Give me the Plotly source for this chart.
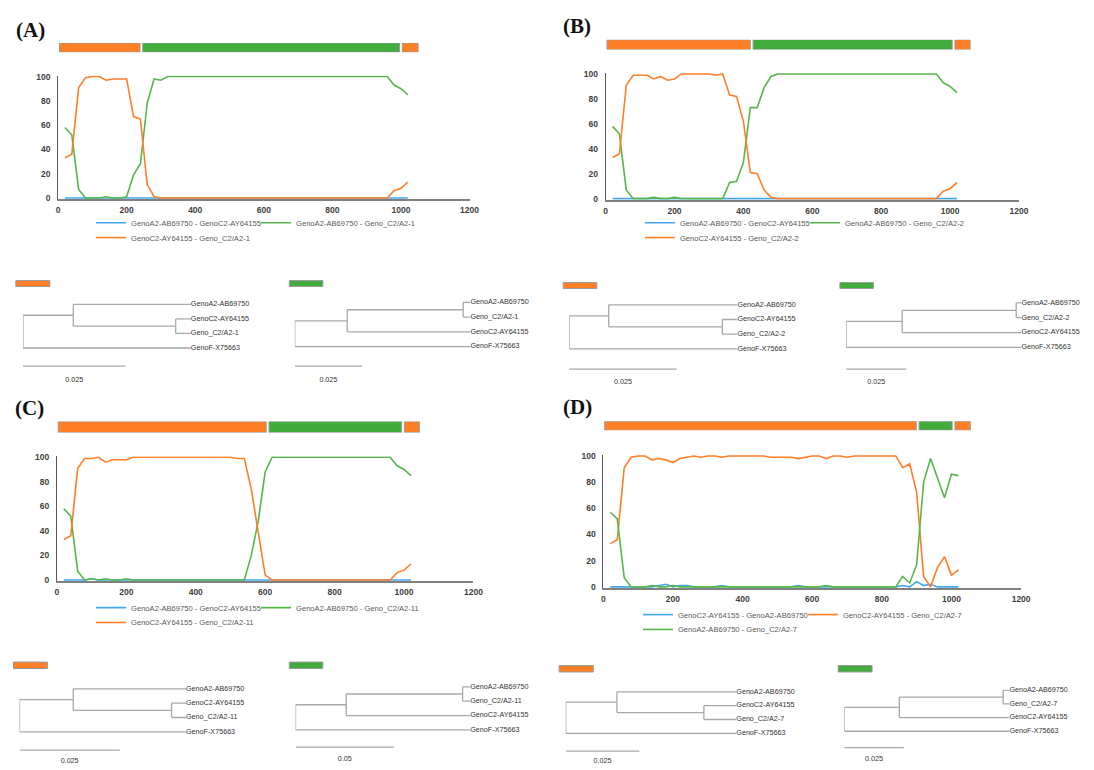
import plotly.graph_objects as go

W, H = 1094, 770

# ---------------- data ----------------
POS = [20, 40, 60, 80, 100, 120, 140, 160, 180, 200,
       220, 240, 260, 280, 300, 320, 340, 360, 380, 400,
       420, 440, 460, 480, 500, 520, 540, 560, 580, 600,
       620, 640, 660, 680, 700, 720, 740, 760, 780, 800,
       820, 840, 860, 880, 900, 920, 940, 960, 980, 1000,
       1020]

X_TICKS = [0, 200, 400, 600, 800, 1000, 1200]
Y_TICKS = [0, 20, 40, 60, 80, 100]

A_NAMES = ["GenoA2-AB69750 - GenoC2-AY64155", "GenoA2-AB69750 - Geno_C2/A2-1",
           "GenoC2-AY64155 - Geno_C2/A2-1"]
A_BLUE = [0, 0, 0, 0, 0, 0, 0, 0, 0, 0,
          0, 0, 0, 0, 0, 0, 0, 0, 0, 0,
          0, 0, 0, 0, 0, 0, 0, 0, 0, 0,
          0, 0, 0, 0, 0, 0, 0, 0, 0, 0,
          0, 0, 0, 0, 0, 0, 0, 0, 0, 0,
          0]
A_GREEN = [58, 52, 7, 0, 0, 0, 1, 0, 0, 1,
           19, 28, 78, 98, 97, 100, 100, 100, 100, 100,
           100, 100, 100, 100, 100, 100, 100, 100, 100, 100,
           100, 100, 100, 100, 100, 100, 100, 100, 100, 100,
           100, 100, 100, 100, 100, 100, 100, 100, 93, 90,
           85]
A_ORANGE = [33, 36, 91, 99, 100, 100, 97, 98, 98, 98,
            67, 65, 11, 1, 0, 0, 0, 0, 0, 0,
            0, 0, 0, 0, 0, 0, 0, 0, 0, 0,
            0, 0, 0, 0, 0, 0, 0, 0, 0, 0,
            0, 0, 0, 0, 0, 0, 0, 0, 6, 8,
            13]

B_NAMES = ["GenoA2-AB69750 - GenoC2-AY64155", "GenoA2-AB69750 - Geno_C2/A2-2",
           "GenoC2-AY64155 - Geno_C2/A2-2"]
B_BLUE = [0, 0, 0, 0, 0, 0, 0, 0, 0, 0,
          0, 0, 0, 0, 0, 0, 0, 0, 0, 0,
          0, 0, 0, 0, 0, 0, 0, 0, 0, 0,
          0, 0, 0, 0, 0, 0, 0, 0, 0, 0,
          0, 0, 0, 0, 0, 0, 0, 0, 0, 0,
          0]
B_GREEN = [58, 52, 7, 0, 0, 0, 1, 0, 0, 1,
           0, 0, 0, 0, 0, 0, 0, 13, 14, 29,
           73, 73, 89, 98, 100, 100, 100, 100, 100, 100,
           100, 100, 100, 100, 100, 100, 100, 100, 100, 100,
           100, 100, 100, 100, 100, 100, 100, 100, 93, 90,
           85]
B_ORANGE = [33, 36, 91, 99, 99, 99, 96, 98, 95, 96,
            100, 100, 100, 100, 100, 99, 100, 83, 82, 62,
            21, 20, 7, 1, 0, 0, 0, 0, 0, 0,
            0, 0, 0, 0, 0, 0, 0, 0, 0, 0,
            0, 0, 0, 0, 0, 0, 0, 0, 6, 8,
            13]

C_NAMES = ["GenoA2-AB69750 - GenoC2-AY64155", "GenoA2-AB69750 - Geno_C2/A2-11",
           "GenoC2-AY64155 - Geno_C2/A2-11"]
C_BLUE = [0, 0, 0, 0, 1, 0, 0, 0, 0, 0,
          0, 0, 0, 0, 0, 0, 0, 0, 0, 0,
          0, 0, 0, 0, 0, 0, 0, 0, 0, 0,
          0, 0, 0, 0, 0, 0, 0, 0, 0, 0,
          0, 0, 0, 0, 0, 0, 0, 0, 0, 0,
          0]
C_GREEN = [58, 52, 7, 0, 1, 0, 1, 0, 0, 1,
           0, 0, 0, 0, 0, 0, 0, 0, 0, 0,
           0, 0, 0, 0, 0, 0, 0, 20, 48, 88,
           100, 100, 100, 100, 100, 100, 100, 100, 100, 100,
           100, 100, 100, 100, 100, 100, 100, 100, 93, 90,
           85]
C_ORANGE = [33, 36, 91, 99, 99, 100, 96, 98, 98, 98,
            100, 100, 100, 100, 100, 100, 100, 100, 100, 100,
            100, 100, 100, 100, 100, 99, 99, 74, 40, 4,
            0, 0, 0, 0, 0, 0, 0, 0, 0, 0,
            0, 0, 0, 0, 0, 0, 0, 0, 6, 8,
            13]

D_NAMES = ["GenoC2-AY64155 - GenoA2-AB69750", "GenoC2-AY64155 - Geno_C2/A2-7",
           "GenoA2-AB69750 - Geno_C2/A2-7"]
D_BLUE = [0, 0, 0, 0, 0, 0, 0, 1, 2, 0,
          1, 1, 0, 0, 0, 0, 1, 0, 0, 0,
          0, 0, 0, 0, 0, 0, 0, 1, 0, 0,
          0, 0, 0, 0, 0, 0, 0, 0, 0, 0,
          0, 0, 1, 0, 4, 1, 2, 0, 0, 0,
          0]
D_ORANGE = [33, 36, 91, 99, 100, 100, 97, 98, 97, 95,
            98, 99, 100, 99, 100, 100, 99, 100, 100, 100,
            100, 100, 100, 99, 99, 99, 99, 98, 99, 100,
            100, 98, 100, 100, 99, 100, 100, 100, 100, 100,
            100, 100, 91, 94, 72, 8, 0, 15, 23, 9,
            13]
D_GREEN = [57, 52, 7, 0, 0, 0, 1, 0, 0, 1,
           0, 0, 0, 0, 0, 0, 0, 0, 0, 0,
           0, 0, 0, 0, 0, 0, 0, 0, 0, 0,
           0, 1, 0, 0, 0, 0, 0, 0, 0, 0,
           0, 0, 8, 3, 17, 80, 98, 83, 68, 86,
           85]

# recombination segments (breakpoints along the alignment) and their parental colour
A_BREAKS = [0, 243, 1000, 1054]
B_BREAKS = [0, 424, 1010, 1062]
C_BREAKS = [0, 607, 997, 1048]
D_BREAKS = [0, 903, 1006, 1058]
SEG_PARENT = ["C2", "A2", "C2"]

# trees: leaves top->bottom, node depths [N1, N2, leaves], scale bar value
TREE_AL_LEAVES = ["GenoA2-AB69750", "GenoC2-AY64155", "Geno_C2/A2-1", "GenoF-X75663"]
TREE_AR_LEAVES = ["GenoA2-AB69750", "Geno_C2/A2-1", "GenoC2-AY64155", "GenoF-X75663"]
TREE_BL_LEAVES = ["GenoA2-AB69750", "GenoC2-AY64155", "Geno_C2/A2-2", "GenoF-X75663"]
TREE_BR_LEAVES = ["GenoA2-AB69750", "Geno_C2/A2-2", "GenoC2-AY64155", "GenoF-X75663"]
TREE_CL_LEAVES = ["GenoA2-AB69750", "GenoC2-AY64155", "Geno_C2/A2-11", "GenoF-X75663"]
TREE_CR_LEAVES = ["GenoA2-AB69750", "Geno_C2/A2-11", "GenoC2-AY64155", "GenoF-X75663"]
TREE_DL_LEAVES = ["GenoA2-AB69750", "GenoC2-AY64155", "Geno_C2/A2-7", "GenoF-X75663"]
TREE_DR_LEAVES = ["GenoA2-AB69750", "Geno_C2/A2-7", "GenoC2-AY64155", "GenoF-X75663"]

TREE_AL_DEPTHS = [0.0123, 0.0373, 0.0410]
TREE_AR_DEPTHS = [0.0195, 0.0626, 0.0653]
TREE_BL_DEPTHS = [0.0092, 0.0356, 0.0391]
TREE_BR_DEPTHS = [0.0233, 0.0707, 0.0729]
TREE_CL_DEPTHS = [0.0134, 0.0379, 0.0415]
TREE_CR_DEPTHS = [0.0257, 0.0847, 0.0886]
TREE_DL_DEPTHS = [0.0174, 0.0469, 0.0579]
TREE_DR_DEPTHS = [0.0231, 0.0667, 0.0693]

TREE_AL_SCALE = 0.025
TREE_AR_SCALE = 0.025
TREE_BL_SCALE = 0.025
TREE_BR_SCALE = 0.025
TREE_CL_SCALE = 0.025
TREE_CR_SCALE = 0.05
TREE_DL_SCALE = 0.025
TREE_DR_SCALE = 0.025

# ---------------- style ----------------
ORANGE = "#FF7F27"
GREEN_BAR = "#41AB3B"
GREEN_LINE = "#55B74A"
BLUE = "#43A7EE"
PARENT_COLOR = {"C2": ORANGE, "A2": GREEN_BAR}
SANS = "Liberation Sans, Arial, sans-serif"
SERIF = "Liberation Serif, Times New Roman, serif"


def xd(a, b):
    return [max(0.0, a / W), min(1.0, b / W)]


def yd(top, bot):
    return [max(0.0, 1 - bot / H), min(1.0, 1 - top / H)]


# pixel layout of each panel
PANELS = [
    dict(tag="(A)", tag_xy=(29, 26), x0=56.7, x1=472.7, y0=196.0, y100=73.3,
         strip=(39.3, 48.7), leg_x=90, leg_y=(221, 236)),
    dict(tag="(B)", tag_xy=(581, 22), x0=610.3, x1=1028.3, y0=196.7, y100=70.7,
         strip=(36.0, 46.0), leg_x=645, leg_y=(221, 236)),
    dict(tag="(C)", tag_xy=(28, 408), x0=55.5, x1=476.7, y0=582.0, y100=458.0,
         strip=(422.0, 433.0), leg_x=90, leg_y=(610, 625)),
    dict(tag="(D)", tag_xy=(582, 407), x0=608.0, x1=1030.4, y0=589.0, y100=456.7,
         strip=(421.7, 430.7), leg_x=643, leg_y=(617, 632)),
]
PANEL_DATA = [
    (A_NAMES, [A_BLUE, A_GREEN, A_ORANGE], [BLUE, GREEN_LINE, ORANGE], A_BREAKS),
    (B_NAMES, [B_BLUE, B_GREEN, B_ORANGE], [BLUE, GREEN_LINE, ORANGE], B_BREAKS),
    (C_NAMES, [C_BLUE, C_GREEN, C_ORANGE], [BLUE, GREEN_LINE, ORANGE], C_BREAKS),
    (D_NAMES, [D_BLUE, D_ORANGE, D_GREEN], [BLUE, ORANGE, GREEN_LINE], D_BREAKS),
]

TREES = [
    (TREE_AL_LEAVES, TREE_AL_DEPTHS, TREE_AL_SCALE, "outer",
     dict(root=21.2, scale_px=103.5, leaf0=303.5, sp=14.7, sb=366, lbl=380, sw=(14, 48.4, 279.5, 285.5), col=ORANGE)),
    (TREE_AR_LEAVES, TREE_AR_DEPTHS, TREE_AR_SCALE, "inner",
     dict(root=296, scale_px=68, leaf0=301.5, sp=14.9, sb=366, lbl=380, sw=(290.5, 324.4, 279.5, 285.5), col=GREEN_BAR)),
    (TREE_BL_LEAVES, TREE_BL_DEPTHS, TREE_BL_SCALE, "outer",
     dict(root=573.4, scale_px=108.8, leaf0=304, sp=14.8, sb=369, lbl=382, sw=(567.5, 601.4, 281.5, 287.5), col=ORANGE)),
    (TREE_BR_LEAVES, TREE_BR_DEPTHS, TREE_BR_SCALE, "inner",
     dict(root=853.5, scale_px=60.8, leaf0=302, sp=15.0, sb=369, lbl=382, sw=(847.2, 881.1, 281.5, 287.5), col=GREEN_BAR)),
    (TREE_CL_LEAVES, TREE_CL_DEPTHS, TREE_CL_SCALE, "outer",
     dict(root=17.7, scale_px=101.4, leaf0=692, sp=14.5, sb=754, lbl=765, sw=(11.7, 45.9, 665, 671.5), col=ORANGE)),
    (TREE_CR_LEAVES, TREE_CR_DEPTHS, TREE_CR_SCALE, "inner",
     dict(root=296.8, scale_px=99.7, leaf0=690, sp=14.5, sb=751, lbl=763, sw=(290.5, 324.4, 665, 671.5), col=GREEN_BAR)),
    (TREE_DL_LEAVES, TREE_DL_DEPTHS, TREE_DL_SCALE, "outer",
     dict(root=569.9, scale_px=74.5, leaf0=695, sp=14.0, sb=755, lbl=765, sw=(563.3, 597.9, 668.5, 675), col=ORANGE)),
    (TREE_DR_LEAVES, TREE_DR_DEPTHS, TREE_DR_SCALE, "inner",
     dict(root=851.7, scale_px=60.2, leaf0=693.5, sp=13.8, sb=751.5, lbl=763, sw=(845.5, 879.7, 668.5, 675), col=GREEN_BAR)),
]

fig = go.Figure()
layout = dict(width=W, height=H, margin=dict(l=0, r=0, t=0, b=0),
              paper_bgcolor="white", plot_bgcolor="white", hovermode=False,
              showlegend=True)
annotations = []
shapes = []


def ax_name(kind, n):
    return f"{kind}axis" if n == 1 else f"{kind}axis{n}"


def ref(kind, n):
    return kind if n == 1 else f"{kind}{n}"


# ---------------- recombination line charts ----------------
for p, (P, (names, series, colors, breaks)) in enumerate(zip(PANELS, PANEL_DATA)):
    n = p + 1
    k = (P["y0"] - P["y100"]) / 100.0
    pad = 0.8
    layout[ax_name("x", n)] = dict(
        domain=xd(P["x0"], P["x1"]), range=[0, 1200], anchor=ref("y", n),
        tickvals=X_TICKS, ticks="", showgrid=False, zeroline=False,
        showline=True, linecolor="#808080", linewidth=1.6, layer="below traces",
        tickfont=dict(family=SANS, size=8.5, color="#404040", weight="bold"),
        ticklabelstandoff=2, fixedrange=True)
    layout[ax_name("y", n)] = dict(
        domain=yd(P["y100"] - pad * k, P["y0"] + pad * k), range=[-pad, 100 + pad],
        anchor=ref("x", n), tickvals=Y_TICKS, ticks="", showgrid=False, zeroline=False,
        showline=True, linecolor="#595959", linewidth=1, layer="below traces",
        tickfont=dict(family=SANS, size=8.5, color="#404040", weight="bold"),
        ticklabelstandoff=5, fixedrange=True)
    leg_row1 = "legend" if p == 0 else f"legend{2 * p + 1}"
    leg_row2 = f"legend{2 * p + 2}"
    for i, (nm, vals, col) in enumerate(zip(names, series, colors)):
        extra = dict(legendwidth=120) if i == 0 else {}
        fig.add_trace(go.Scatter(
            x=POS, y=vals, mode="lines", name=nm,
            line=dict(color=col, width=1.6),
            xaxis=ref("x", n), yaxis=ref("y", n),
            legend=leg_row1 if i < 2 else leg_row2, showlegend=True, **extra))
    for j, ly in enumerate(P["leg_y"]):
        key = leg_row1 if j == 0 else leg_row2
        layout[key] = dict(
            orientation="h", x=P["leg_x"] / W, xanchor="left", y=1 - ly / H,
            yanchor="middle", bgcolor="rgba(0,0,0,0)", borderwidth=0,
            font=dict(family=SANS, size=7.6, color="#595959"),
            itemwidth=30, tracegroupgap=0, itemclick=False, itemdoubleclick=False)

    # segment strip above the chart
    ns = p + 5
    gap = 1.4 / ((P["x1"] - P["x0"]) / 1200.0)
    starts = [breaks[i] + gap for i in range(len(breaks) - 1)]
    lens = [breaks[i + 1] - breaks[i] - 2 * gap for i in range(len(breaks) - 1)]
    fig.add_trace(go.Bar(
        x=lens, base=starts, y=[0] * len(lens), orientation="h", width=1,
        marker=dict(color=[PARENT_COLOR[s] for s in SEG_PARENT],
                    line=dict(color="#9a9a9a", width=1)),
        xaxis=ref("x", ns), yaxis=ref("y", ns), showlegend=False))
    layout[ax_name("x", ns)] = dict(domain=xd(P["x0"], P["x1"]), range=[0, 1200],
                                    anchor=ref("y", ns), visible=False, fixedrange=True)
    layout[ax_name("y", ns)] = dict(domain=yd(P["strip"][0], P["strip"][1]), range=[-0.5, 0.5],
                                    anchor=ref("x", ns), visible=False, fixedrange=True)

    annotations.append(dict(
        text=f"<b>{P['tag']}</b>", x=P["tag_xy"][0] / W, y=1 - P["tag_xy"][1] / H,
        xref="paper", yref="paper", showarrow=False, xanchor="center", yanchor="middle",
        font=dict(family=SERIF, size=21, color="#111111")))

# ---------------- phylogenetic trees ----------------


def tree_xy(depths, kind):
    n1, n2, lf = depths
    if kind == "outer":  # ((0,(1,2)),3)
        yn2 = 1.5
        yn1 = (0 + yn2) / 2
        segs = [((0, yn1), (0, 3)), ((0, yn1), (n1, yn1)), ((n1, 0), (n1, yn2)),
                ((n1, 0), (lf, 0)), ((n1, yn2), (n2, yn2)), ((n2, 1), (n2, 2)),
                ((n2, 1), (lf, 1)), ((n2, 2), (lf, 2)), ((0, 3), (lf, 3))]
    else:  # (((0,1),2),3)
        yn2 = 0.5
        yn1 = (yn2 + 2) / 2
        segs = [((0, yn1), (0, 3)), ((0, yn1), (n1, yn1)), ((n1, yn2), (n1, 2)),
                ((n1, yn2), (n2, yn2)), ((n2, 0), (n2, 1)), ((n2, 0), (lf, 0)),
                ((n2, 1), (lf, 1)), ((n1, 2), (lf, 2)), ((0, 3), (lf, 3))]
    xs, ys = [], []
    for (a, b) in segs:
        xs += [a[0], b[0], None]
        ys += [a[1], b[1], None]
    return xs, ys


for t, (leaves, depths, scale, kind, L) in enumerate(TREES):
    n = 9 + t
    ppu = L["scale_px"] / scale
    leaf = depths[2]
    sb_row = (L["sb"] - L["leaf0"]) / L["sp"]
    lbl_row = (L["lbl"] - L["leaf0"]) / L["sp"]
    top_px = max(0.0, L["leaf0"] - 0.6 * L["sp"])
    bot_px = min(float(H), L["lbl"] + 0.3 * L["sp"])
    rmin = (top_px - L["leaf0"]) / L["sp"]
    rmax = (bot_px - L["leaf0"]) / L["sp"]
    layout[ax_name("x", n)] = dict(domain=xd(L["root"], L["root"] + leaf * ppu), range=[0, leaf],
                                   anchor=ref("y", n), visible=False, fixedrange=True)
    layout[ax_name("y", n)] = dict(domain=yd(top_px, bot_px),
                                   range=[rmax, rmin], anchor=ref("x", n), visible=False,
                                   fixedrange=True)
    xs, ys = tree_xy(depths, kind)
    fig.add_trace(go.Scatter(x=xs, y=ys, mode="lines", line=dict(color="#a8a8a8", width=1.3),
                             xaxis=ref("x", n), yaxis=ref("y", n), showlegend=False,
                             cliponaxis=False))
    fig.add_trace(go.Scatter(x=[leaf] * len(leaves), y=list(range(len(leaves))), mode="text",
                             text=leaves, textposition="middle right",
                             textfont=dict(family=SANS, size=7.2, color="#333333"),
                             xaxis=ref("x", n), yaxis=ref("y", n), showlegend=False,
                             cliponaxis=False))
    # scale bar
    fig.add_trace(go.Scatter(x=[0, scale], y=[sb_row, sb_row], mode="lines",
                             line=dict(color="#a8a8a8", width=1.3),
                             xaxis=ref("x", n), yaxis=ref("y", n), showlegend=False,
                             cliponaxis=False))
    fig.add_trace(go.Scatter(x=[scale / 2], y=[lbl_row], mode="text", text=[f"{scale:g}"],
                             textposition="middle center",
                             textfont=dict(family=SANS, size=7.2, color="#333333"),
                             xaxis=ref("x", n), yaxis=ref("y", n), showlegend=False,
                             cliponaxis=False))
    x0, x1, y0, y1 = L["sw"]
    shapes.append(dict(type="rect", xref="paper", yref="paper", x0=x0 / W, x1=x1 / W,
                       y0=1 - y1 / H, y1=1 - y0 / H, fillcolor=L["col"],
                       line=dict(color="#9a9a9a", width=1)))

layout["annotations"] = annotations
layout["shapes"] = shapes
fig.update_layout(**layout)
fig.write_html("out.html", config={"displayModeBar": False},
               post_script="document.body.style.margin='0';document.body.style.padding='0';"
                           "document.documentElement.style.overflow='hidden';")
